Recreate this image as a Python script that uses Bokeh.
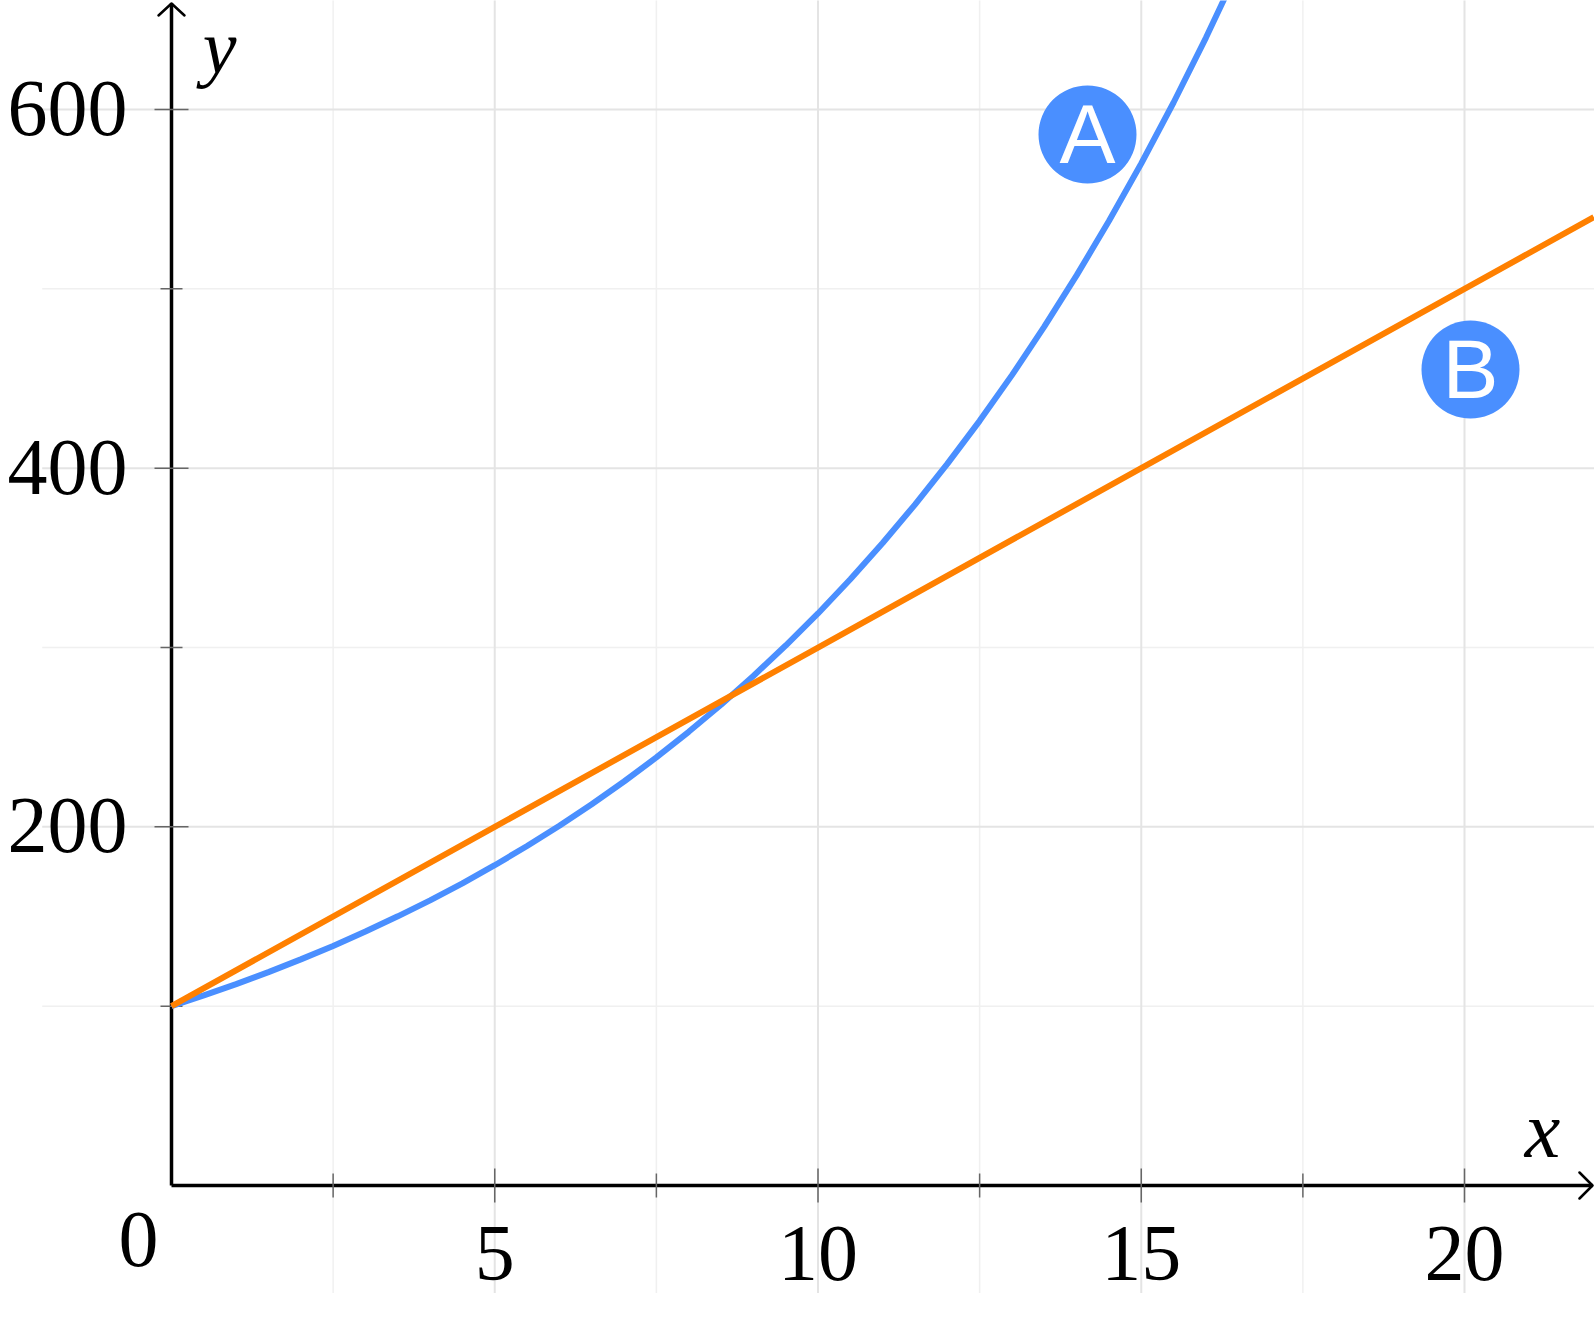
from bokeh.plotting import figure
from bokeh.models import Range1d
from bokeh.core.properties import value
from bokeh.embed import file_html
from bokeh.resources import INLINE

# ---- data ----
a_x = [0, 0.5, 1, 1.5, 2, 2.5, 3, 3.5, 4, 4.5, 5, 5.5, 6, 6.5, 7, 7.5, 8, 8.5,
       9, 9.5, 10, 10.5, 11, 11.5, 12, 12.5, 13, 13.5, 14, 14.5, 15, 15.5, 16, 16.5, 17]
a_y = [100, 106.0, 112.3, 119.0, 126.1, 133.6, 141.6, 150.1, 159.0, 168.5, 178.6,
       189.3, 200.6, 212.6, 225.3, 238.7, 253.0, 268.1, 284.1, 301.1, 319.0, 338.1,
       358.3, 379.7, 402.4, 426.4, 451.9, 478.9, 507.5, 537.8, 569.9, 603.9, 640.0,
       678.2, 718.7]
b_x = [0, 5, 10, 15, 20, 22]
b_y = [100, 200, 300, 400, 500, 540]

x_major = [5, 10, 15, 20]
x_major_labels = ["5", "10", "15", "20"]
x_minor = [2.5, 7.5, 12.5, 17.5]
y_major = [200, 400, 600]
y_major_labels = ["200", "400", "600"]
y_minor = [100, 300, 500]

grid_x_lo, grid_x_hi = -2, 23
grid_y_lo, grid_y_hi = -60, 700

BLUE = "#4a8fff"
ORANGE = "#ff8000"

# ---- geometry (pixels per unit, position of origin) ----
W, H = 1594, 1324
PX_X = 64.65
PX_Y = 1.7933
OX, OY = 171, 1185   # origin in figure pixels

def dx(px):
    return px / PX_X

def dy(px):
    return px / PX_Y

x_start = -OX / PX_X
x_end = (W - OX) / PX_X
y_end = OY / PX_Y
y_start = -(H - OY) / PX_Y

p = figure(width=W, height=H, x_range=Range1d(x_start, x_end),
           y_range=Range1d(y_start, y_end), output_backend="svg",
           toolbar_location=None, min_border=0, x_axis_location=None,
           y_axis_location=None, outline_line_color=None,
           background_fill_color="white", border_fill_color="white")
p.grid.visible = False

# grid
p.segment(x0=x_minor, y0=[grid_y_lo] * len(x_minor), x1=x_minor, y1=[grid_y_hi] * len(x_minor),
          line_color="#f0f0f0", line_width=1.5)
p.segment(x0=[grid_x_lo] * len(y_minor), y0=y_minor, x1=[grid_x_hi] * len(y_minor), y1=y_minor,
          line_color="#f0f0f0", line_width=1.5)
p.segment(x0=x_major, y0=[grid_y_lo] * len(x_major), x1=x_major, y1=[grid_y_hi] * len(x_major),
          line_color="#e4e4e4", line_width=2)
p.segment(x0=[grid_x_lo] * len(y_major), y0=y_major, x1=[grid_x_hi] * len(y_major), y1=y_major,
          line_color="#e4e4e4", line_width=2)

# axes
x_tip = dx(1592 - OX)
y_tip = dy(OY - 3)
p.segment(x0=[0, 0], y0=[0, 0], x1=[x_tip, 0], y1=[0, y_tip], line_color="black", line_width=3.5)
p.line([x_tip - dx(13), x_tip, x_tip - dx(13)], [dy(13), 0, -dy(13)],
       line_color="black", line_width=2.5, line_join="round", line_cap="round")
p.line([-dx(13), 0, dx(13)], [y_tip - dy(12), y_tip, y_tip - dy(12)],
       line_color="black", line_width=2.5, line_join="round", line_cap="round")

# ticks
p.segment(x0=x_major, y0=[-dy(17)] * 4, x1=x_major, y1=[dy(17)] * 4, line_color="#666666", line_width=1.5)
p.segment(x0=x_minor, y0=[-dy(12)] * 4, x1=x_minor, y1=[dy(12)] * 4, line_color="#666666", line_width=1.5)
p.segment(x0=[-dx(17)] * 3, y0=y_major, x1=[dx(17)] * 3, y1=y_major, line_color="#666666", line_width=1.5)
p.segment(x0=[-dx(11)] * 3, y0=y_minor, x1=[dx(11)] * 3, y1=y_minor, line_color="#666666", line_width=1.5)

# series
p.line(a_x, a_y, line_color=BLUE, line_width=6)
p.line(b_x, b_y, line_color=ORANGE, line_width=6)

SERIF = value("Liberation Serif")
SHIFT = 29  # renderer places alphabetic text ~0.37em low

# tick labels
p.text(x=x_major, y=[0] * 4, text=x_major_labels, text_font=SERIF, text_font_size="80px",
       text_align="center", text_baseline="alphabetic", y_offset=97 - SHIFT, text_color="black")
p.text(x=[0] * 3, y=y_major, text=y_major_labels, text_font=SERIF, text_font_size="80px",
       text_align="right", text_baseline="alphabetic", x_offset=-44, y_offset=28 - SHIFT, text_color="black")
p.text(x=[0], y=[0], text=["0"], text_font=SERIF, text_font_size="80px",
       text_align="center", text_baseline="alphabetic", x_offset=-33, y_offset=83 - SHIFT, text_color="black")

# axis names
p.text(x=[0], y=[y_tip], text=["y"], text_font=SERIF, text_font_size="76px", text_font_style="italic",
       text_align="center", text_baseline="alphabetic", x_offset=48, y_offset=72 - SHIFT, text_color="black")
p.text(x=[x_tip], y=[0], text=["x"], text_font=SERIF, text_font_size="80px", text_font_style="italic",
       text_align="center", text_baseline="alphabetic", x_offset=-50, y_offset=-27 - SHIFT, text_color="black")

# badges
badge_x = [dx(1087 - OX), dx(1470 - OX)]
badge_y = [dy(OY - 134), dy(OY - 369)]
badge_text = ["A", "B"]
p.circle(x=badge_x, y=badge_y, radius=49, radius_units="screen", fill_color=BLUE, line_color=None)
p.text(x=badge_x, y=badge_y, text=badge_text, text_font=value("Liberation Sans"), text_font_size="84px",
       text_align="center", text_baseline="alphabetic", y_offset=30 - 31, text_color="white")

open("out.html", "w").write(file_html(p, INLINE))
